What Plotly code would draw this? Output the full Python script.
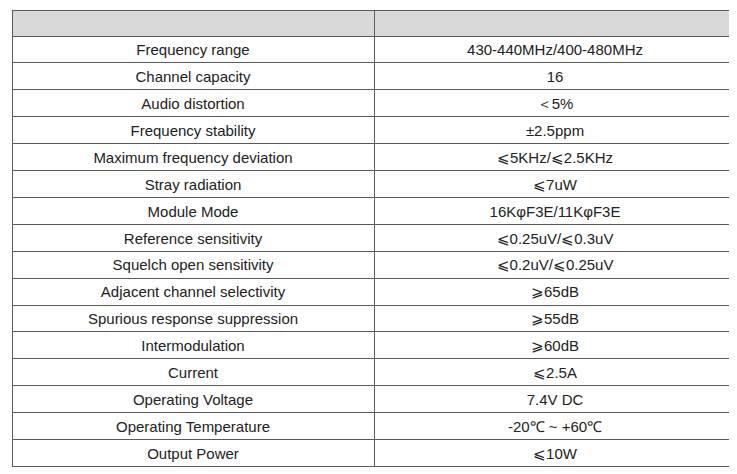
import plotly.graph_objects as go

params = ["Frequency range","Channel capacity","Audio distortion","Frequency stability",
 "Maximum frequency deviation","Stray radiation","Module Mode","Reference sensitivity",
 "Squelch open sensitivity","Adjacent channel selectivity","Spurious response suppression",
 "Intermodulation","Current","Operating Voltage","Operating Temperature","Output Power"]
values = ["430-440MHz/400-480MHz","16","＜5%","±2.5ppm","⩽5KHz/⩽2.5KHz","⩽7uW",
 "16KφF3E/11KφF3E","⩽0.25uV/⩽0.3uV","⩽0.2uV/⩽0.25uV","⩾65dB","⩾55dB","⩾60dB",
 "⩽2.5A","7.4V DC","-20℃ ~ +60℃","⩽10W"]
headers = ["", ""]

fig = go.Figure(go.Table(
    columnwidth=[354, 354],
    header=dict(values=headers, fill_color="#d9d9d9", line_color="#5a5a5a", height=26,
                font=dict(family="Liberation Sans, Arial", size=14, color="#222")),
    cells=dict(values=[params, values], fill_color="white", line_color="#5a5a5a", height=26.9,
               align="center", font=dict(family="Liberation Sans, Arial", size=15, color="#222")),
))
fig.update_layout(width=737, height=474, margin=dict(l=4, r=9, t=2, b=0),
                  paper_bgcolor="white")
fig.write_html("out.html")
